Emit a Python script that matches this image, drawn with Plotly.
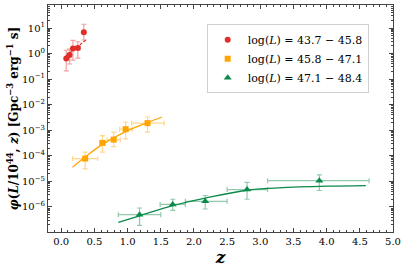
import plotly.graph_objects as go

# ---- data ----
red_z = [0.075, 0.125, 0.176, 0.25, 0.34]
red_phi = [0.64, 0.87, 1.57, 1.66, 6.9]
red_phi_hi = [1.35, 1.5, 3.3, 2.9, 14.0]
red_phi_lo = [0.21, 0.39, 0.55, 0.66, 3.4]
red_zerr = [0.02, 0.02, 0.02, 0.03, 0.02]
red_fit_z = [0.07, 0.37]
red_fit_phi = [0.8, 3.4]

or_z = [0.36, 0.62, 0.79, 0.97, 1.30]
or_phi = [7.8e-5, 3.2e-4, 4.3e-4, 1.1e-3, 1.9e-3]
or_phi_hi = [1.4e-4, 6.2e-4, 8.5e-4, 2.1e-3, 3.3e-3]
or_phi_lo = [3.1e-5, 1.4e-4, 2.3e-4, 4.6e-4, 8.5e-4]
or_zlo = [0.17, 0.58, 0.69, 0.88, 1.06]
or_zhi = [0.55, 0.66, 0.89, 1.07, 1.55]
or_fit_z = [0.17, 0.36, 0.62, 0.97, 1.30, 1.52]
or_fit_phi = [3.6e-5, 9.0e-5, 2.8e-4, 8.9e-4, 2.0e-3, 3.3e-3]

gr_z = [1.18, 1.68, 2.17, 2.80, 3.89]
gr_phi = [5.0e-7, 1.26e-6, 1.66e-6, 4.8e-6, 1.07e-5]
gr_phi_hi = [9.1e-7, 2.0e-6, 2.8e-6, 9.1e-6, 1.8e-5]
gr_phi_lo = [1.9e-7, 7.4e-7, 8.3e-7, 2.0e-6, 4.4e-6]
gr_zlo = [0.86, 1.49, 1.87, 2.50, 3.11]
gr_zhi = [1.50, 1.87, 2.50, 3.11, 4.64]
gr_fit_z = [0.86, 1.18, 1.68, 2.17, 2.80, 3.5, 4.0, 4.59]
gr_fit_phi = [2.5e-7, 4.5e-7, 1.12e-6, 2.2e-6, 4.5e-6, 6.0e-6, 6.5e-6, 6.8e-6]

labels = ["log(<i>L</i>) = 43.7 − 45.8",
          "log(<i>L</i>) = 45.8 − 47.1",
          "log(<i>L</i>) = 47.1 − 48.4"]

y_tickvals = [1e-6, 1e-5, 1e-4, 1e-3, 1e-2, 1e-1, 1e0, 1e1]
y_ticktext = ["10<sup>−6</sup>", "10<sup>−5</sup>", "10<sup>−4</sup>", "10<sup>−3</sup>",
              "10<sup>−2</sup>", "10<sup>−1</sup>", "10<sup>0</sup>", "10<sup>1</sup>"]

RED = "#e0302a"
ORANGE = "#ffa500"
GREEN = "#0b8a4a"
RED_E = "rgba(224,48,42,0.45)"
OR_E = "rgba(255,165,0,0.45)"
GR_E = "rgba(11,138,74,0.45)"

fig = go.Figure()

def add_series(z, phi, hi, lo, zlo, zhi, color, ecolor, symbol, size, name):
    fig.add_trace(go.Scatter(
        x=z, y=phi, mode="markers", name=name,
        marker=dict(color=color, symbol=symbol, size=size),
        error_y=dict(type="data", symmetric=False,
                     array=[h - p for h, p in zip(hi, phi)],
                     arrayminus=[p - l for p, l in zip(phi, lo)],
                     color=ecolor, thickness=1.2, width=2.5),
        error_x=dict(type="data", symmetric=False,
                     array=[b - a for a, b in zip(z, zhi)],
                     arrayminus=[a - b for a, b in zip(z, zlo)],
                     color=ecolor, thickness=1.2, width=2.5),
    ))

add_series(red_z, red_phi, red_phi_hi, red_phi_lo,
           [z - e for z, e in zip(red_z, red_zerr)],
           [z + e for z, e in zip(red_z, red_zerr)],
           RED, RED_E, "circle", 6, labels[0])
add_series(or_z, or_phi, or_phi_hi, or_phi_lo, or_zlo, or_zhi,
           ORANGE, OR_E, "square", 6, labels[1])
add_series(gr_z, gr_phi, gr_phi_hi, gr_phi_lo, gr_zlo, gr_zhi,
           GREEN, GR_E, "triangle-up", 7, labels[2])

fig.add_trace(go.Scatter(x=red_fit_z, y=red_fit_phi, mode="lines", showlegend=False,
                         line=dict(color=RED, width=1.2, dash="3px,1.5px")))
fig.add_trace(go.Scatter(x=or_fit_z, y=or_fit_phi, mode="lines", showlegend=False,
                         line=dict(color=ORANGE, width=1.3, shape="spline")))
fig.add_trace(go.Scatter(x=gr_fit_z, y=gr_fit_phi, mode="lines", showlegend=False,
                         line=dict(color=GREEN, width=1.3, shape="spline")))

FONT = "DejaVu Serif"
AX = "#444444"
fig.update_layout(
    width=407, height=271,
    margin=dict(l=48, r=14, t=5, b=39),
    plot_bgcolor="white", paper_bgcolor="white",
    font=dict(family=FONT, color="black", size=11),
    showlegend=True,
    legend=dict(x=0.46, y=0.915, xanchor="left", yanchor="top",
                bgcolor="white", bordercolor="#d0d0d0", borderwidth=1,
                font=dict(family=FONT, size=11), itemwidth=30,
                tracegroupgap=0),
    xaxis=dict(range=[-0.2, 5.0], tickmode="linear", tick0=0, dtick=0.5,
               tickformat=".1f", ticks="inside", ticklen=4, tickcolor=AX,
               showline=True, linecolor=AX, linewidth=1, mirror="allticks",
               showgrid=False, zeroline=False, automargin=False,
               minor=dict(dtick=0.1, ticks="inside", ticklen=2, tickcolor=AX),
               title=dict(text="<b><i>z</i></b>", font=dict(size=17, family=FONT), standoff=2),
               tickfont=dict(size=10, family=FONT)),
    yaxis=dict(type="log", range=[-6.98, 1.9], tickmode="array",
               tickvals=y_tickvals, ticktext=y_ticktext,
               ticks="inside", ticklen=4, tickcolor=AX,
               showline=True, linecolor=AX, linewidth=1, mirror="allticks",
               showgrid=False, zeroline=False, automargin=False,
               minor=dict(dtick="D1", ticks="inside", ticklen=2, tickcolor=AX),
               title=dict(text="<b><i>φ</i>(<i>L</i>/10<sup>44</sup>, <i>z</i>) [Gpc<sup>−3</sup> erg<sup>−1</sup> s]</b>",
                          font=dict(size=12, family=FONT), standoff=0),
               tickfont=dict(size=10, family=FONT)),
)

fig.write_html("out.html",
               config={"displayModeBar": False},
               post_script="document.body.style.margin='0';document.body.style.padding='0';")
